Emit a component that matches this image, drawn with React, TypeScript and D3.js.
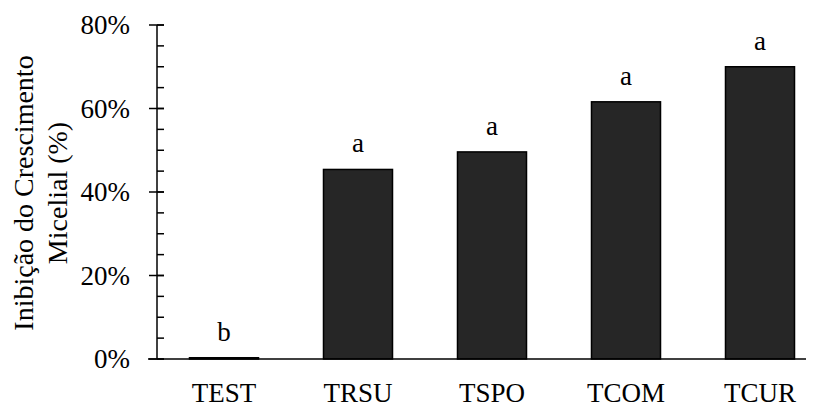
import { useRef, useEffect } from "react";
import * as d3 from "d3";

// Inibição do crescimento micelial por tratamento
const categories = ["TEST", "TRSU", "TSPO", "TCOM", "TCUR"];
const inhibition = [0.003, 0.454, 0.496, 0.616, 0.70];
const letters = ["b", "a", "a", "a", "a"];
const yTicks = [0, 0.2, 0.4, 0.6, 0.8];

const App = () => {
  const svgRef = useRef<SVGSVGElement>(null);
  const width = 814;
  const height = 407;
  const font = "'Liberation Serif', 'Times New Roman', serif";

  useEffect(() => {
    const svg = d3.select(svgRef.current)
      .attr("width", width)
      .attr("height", height);
    svg.selectAll("*").remove();

    const left = 157, top = 25, bottom = 359;

    const x = d3.scaleBand()
      .domain(categories)
      .range([left, left + 134 * categories.length])
      .paddingInner(0.485)
      .paddingOuter(0.2425);

    const y = d3.scaleLinear()
      .domain([0, 0.8])
      .range([bottom, top]);

    // bars
    svg.selectAll(".bar")
      .data(categories)
      .enter()
      .append("rect")
      .attr("class", "bar")
      .attr("x", (d) => x(d)!)
      .attr("y", (d, i) => y(inhibition[i]))
      .attr("width", x.bandwidth())
      .attr("height", (d, i) => bottom - y(inhibition[i]))
      .attr("fill", "#262626")
      .attr("stroke", "#000")
      .attr("stroke-width", 1.5);

    // significance letters
    svg.selectAll(".letter")
      .data(categories)
      .enter()
      .append("text")
      .attr("x", (d) => x(d)! + x.bandwidth() / 2)
      .attr("y", (d, i) => y(inhibition[i]) - 17)
      .attr("text-anchor", "middle")
      .style("font-family", font)
      .style("font-size", "27px")
      .text((d, i) => letters[i]);

    // x axis
    svg.append("line")
      .attr("x1", left - 9).attr("x2", width)
      .attr("y1", bottom).attr("y2", bottom)
      .attr("stroke", "#000").attr("stroke-width", 1.5);

    svg.selectAll(".xlab")
      .data(categories)
      .enter()
      .append("text")
      .attr("x", (d) => x(d)! + x.bandwidth() / 2)
      .attr("y", 402)
      .attr("text-anchor", "middle")
      .style("font-family", font)
      .style("font-size", "27px")
      .text((d) => d);

    // y axis
    const ya = svg.append("g");
    ya.append("line")
      .attr("x1", left).attr("x2", left)
      .attr("y1", top).attr("y2", bottom)
      .attr("stroke", "#000").attr("stroke-width", 1.5);

    const minor = d3.range(0, 0.8001, 0.05);
    ya.selectAll(".minor")
      .data(minor)
      .enter()
      .append("line")
      .attr("x1", left).attr("x2", left + 7)
      .attr("y1", (d) => y(d)).attr("y2", (d) => y(d))
      .attr("stroke", "#000").attr("stroke-width", 1.5);

    ya.selectAll(".major")
      .data(yTicks)
      .enter()
      .append("line")
      .attr("x1", left - 8).attr("x2", left + 7)
      .attr("y1", (d) => y(d)).attr("y2", (d) => y(d))
      .attr("stroke", "#000").attr("stroke-width", 1.5);

    ya.selectAll(".ylab")
      .data(yTicks)
      .enter()
      .append("text")
      .attr("x", left - 27)
      .attr("y", (d) => y(d))
      .attr("dy", "0.35em")
      .attr("text-anchor", "end")
      .style("font-family", font)
      .style("font-size", "27px")
      .text((d) => d3.format(".0%")(d));

    // y title
    const title = svg.append("text")
      .attr("transform", "translate(0,193) rotate(-90)")
      .attr("text-anchor", "middle")
      .style("font-family", font)
      .style("font-size", "28px");
    title.append("tspan").attr("x", 0).attr("y", 33).text("Inibição do Crescimento");
    title.append("tspan").attr("x", 0).attr("y", 67).text("Micelial (%)");
  }, []);

  return (
    <div style={{ margin: -8 }}>
      <svg ref={svgRef}></svg>
    </div>
  );
};

export default App;
